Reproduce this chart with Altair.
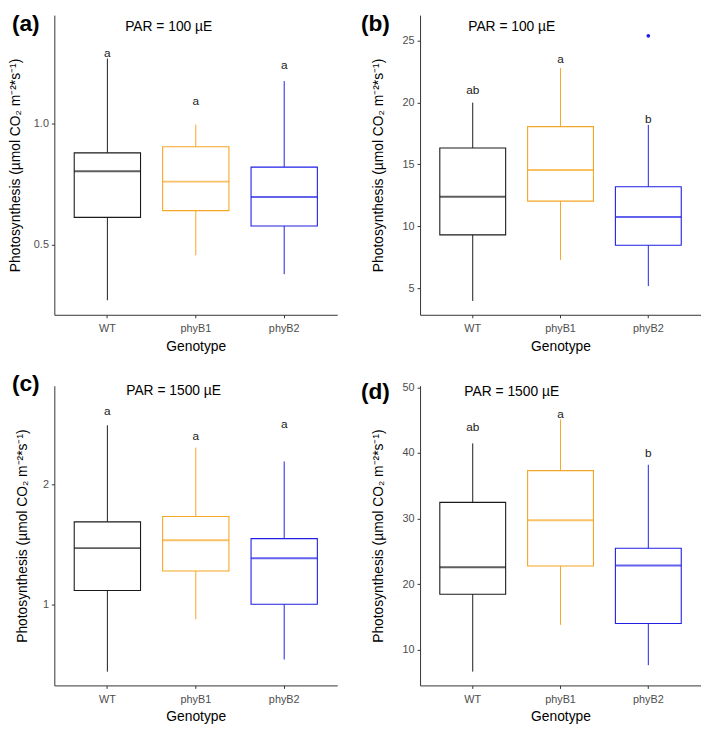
import altair as alt
import pandas as pd

genotypes = ["WT", "phyB1", "phyB2"]
box_colors = ["#1a1a1a", "#F5A623", "#1F1FE6"]

# Panel (a): PAR = 100 µE
a_lower = [0.27, 0.456, 0.378]
a_q1 = [0.613, 0.641, 0.577]
a_median = [0.804, 0.761, 0.697]
a_q3 = [0.88, 0.905, 0.821]
a_upper = [1.27, 0.997, 1.177]
a_letters = ["a", "a", "a"]
a_letter_y = [1.295, 1.095, 1.245]
a_domain = [0.21, 1.45]
a_ticks = [0.5, 1.0]

# Panel (b): PAR = 100 µE
b_lower = [3.96, 7.28, 5.16]
b_q1 = [9.30, 12.03, 8.46]
b_median = [12.39, 14.55, 10.75]
b_q3 = [16.33, 18.06, 13.2]
b_upper = [20.0, 22.79, 18.2]
b_letters = ["ab", "a", "b"]
b_letter_y = [21.0, 23.5, 18.7]
b_outlier_geno = ["phyB2"]
b_outlier_val = [25.4]
b_domain = [2.84, 27.08]
b_ticks = [5, 10, 15, 20, 25]

# Panel (c): PAR = 1500 µE
c_lower = [0.446, 0.88, 0.547]
c_q1 = [1.12, 1.281, 1.006]
c_median = [1.471, 1.537, 1.387]
c_q3 = [1.689, 1.733, 1.55]
c_upper = [2.49, 2.305, 2.19]
c_letters = ["a", "a", "a"]
c_letter_y = [2.605, 2.40, 2.504]
c_domain = [0.332, 2.818]
c_ticks = [1, 2]

# Panel (d): PAR = 1500 µE
d_lower = [6.66, 13.79, 7.65]
d_q1 = [18.45, 22.78, 14.0]
d_median = [22.58, 29.73, 22.85]
d_q3 = [32.47, 37.31, 25.48]
d_upper = [41.46, 45.1, 38.2]
d_letters = ["ab", "a", "b"]
d_letter_y = [43.96, 46.0, 39.96]
d_domain = [4.56, 50.25]
d_ticks = [10, 20, 30, 40, 50]

FONT = "Liberation Sans"
Y_TITLE = "Photosynthesis (µmol CO₂ m⁻²*s⁻¹)"
LEFT_W = 287
RIGHT_W = 285
H = 304


def panel(lower, q1, median, q3, upper, letters, letter_y, domain, ticks, fmt,
          width, title, title_x, title_y, tag, tag_x, tag_y, title_pad,
          outlier=None):
    df = pd.DataFrame({
        "Genotype": genotypes, "lower": lower, "q1": q1, "median": median,
        "q3": q3, "upper": upper, "letter": letters, "letter_y": letter_y,
    })
    step = width / 3.2
    bw = step * 0.75
    xenc = alt.X("Genotype:N", sort=genotypes,
                 scale=alt.Scale(paddingInner=0.25, paddingOuter=0.225),
                 axis=alt.Axis(title="Genotype", labelAngle=0, labelFontSize=11,
                               labelColor="#4d4d4d", labelFont=FONT, titleFont=FONT,
                               titleFontSize=14, titleFontWeight="normal",
                               titleColor="black", domainColor="#333333",
                               tickColor="#333333", tickSize=3, labelPadding=5,
                               titlePadding=6, domainWidth=1, grid=False))
    yscale = alt.Scale(domain=domain, nice=False, zero=False)
    yaxis = alt.Axis(title=Y_TITLE, values=ticks, format=fmt, grid=False,
                     labelFontSize=11, labelColor="#4d4d4d", labelFont=FONT,
                     titleFont=FONT, titleFontSize=14, titleFontWeight="normal",
                     titleColor="black", domainColor="#333333",
                     tickColor="#333333", tickSize=3, labelPadding=3,
                     titlePadding=title_pad, domainWidth=1)
    color = alt.Color("Genotype:N", scale=alt.Scale(domain=genotypes, range=box_colors),
                      legend=None)
    base = alt.Chart(df)
    whisk = base.mark_rule(strokeWidth=1).encode(
        x=xenc, y=alt.Y("lower:Q", scale=yscale, axis=yaxis), y2="upper:Q", color=color)
    box = base.mark_bar(fill="white", strokeWidth=1.1).encode(
        x=xenc, y=alt.Y("q1:Q"), y2="q3:Q", stroke=color)
    med = base.mark_tick(size=bw, thickness=2).encode(
        x=xenc, y=alt.Y("median:Q"), color=color)
    lets = base.mark_text(fontSize=12, font=FONT, color="#1a1a1a").encode(
        x=xenc, y=alt.Y("letter_y:Q"), text="letter:N")
    ttl = alt.Chart(pd.DataFrame({"t": [title]})).mark_text(
        fontSize=14, font=FONT, color="black", align="center", baseline="middle").encode(
        x=alt.value(title_x), y=alt.value(title_y), text="t:N")
    tg = alt.Chart(pd.DataFrame({"t": [tag]})).mark_text(
        fontSize=23, font=FONT, fontWeight="bold", color="black", align="left",
        baseline="top").encode(x=alt.value(tag_x), y=alt.value(tag_y), text="t:N")
    layers = [whisk, box, med, lets, ttl, tg]
    if outlier is not None:
        odf = pd.DataFrame({"Genotype": outlier[0], "v": outlier[1]})
        pts = alt.Chart(odf).mark_circle(size=14, opacity=1).encode(
            x=xenc, y=alt.Y("v:Q"), color=color)
        layers.append(pts)
    return alt.layer(*layers).properties(width=width, height=H)


pa = panel(a_lower, a_q1, a_median, a_q3, a_upper, a_letters, a_letter_y,
           a_domain, a_ticks, ".1f", LEFT_W, "PAR = 100 µE", 116, 12,
           "(a)", -43, -2, 11)
pb = panel(b_lower, b_q1, b_median, b_q3, b_upper, b_letters, b_letter_y,
           b_domain, b_ticks, "d", RIGHT_W, "PAR = 100 µE", 93, 12,
           "(b)", -60, -2, 17, outlier=(b_outlier_geno, b_outlier_val))
pc = panel(c_lower, c_q1, c_median, c_q3, c_upper, c_letters, c_letter_y,
           c_domain, c_ticks, "d", LEFT_W, "PAR = 1500 µE", 121, 5,
           "(c)", -43, -13, 13)
pd_ = panel(d_lower, d_q1, d_median, d_q3, d_upper, d_letters, d_letter_y,
            d_domain, d_ticks, "d", RIGHT_W, "PAR = 1500 µE", 93, 6,
            "(d)", -60, -5, 17)

chart = alt.concat(pa, pb, pc, pd_, columns=2,
                   spacing={"row": 72, "column": 84}, bounds="flush").properties(
    padding=0, background="white"
).configure_view(stroke=None)

chart.save("out.html", embed_options={"renderer": "svg", "actions": False})
